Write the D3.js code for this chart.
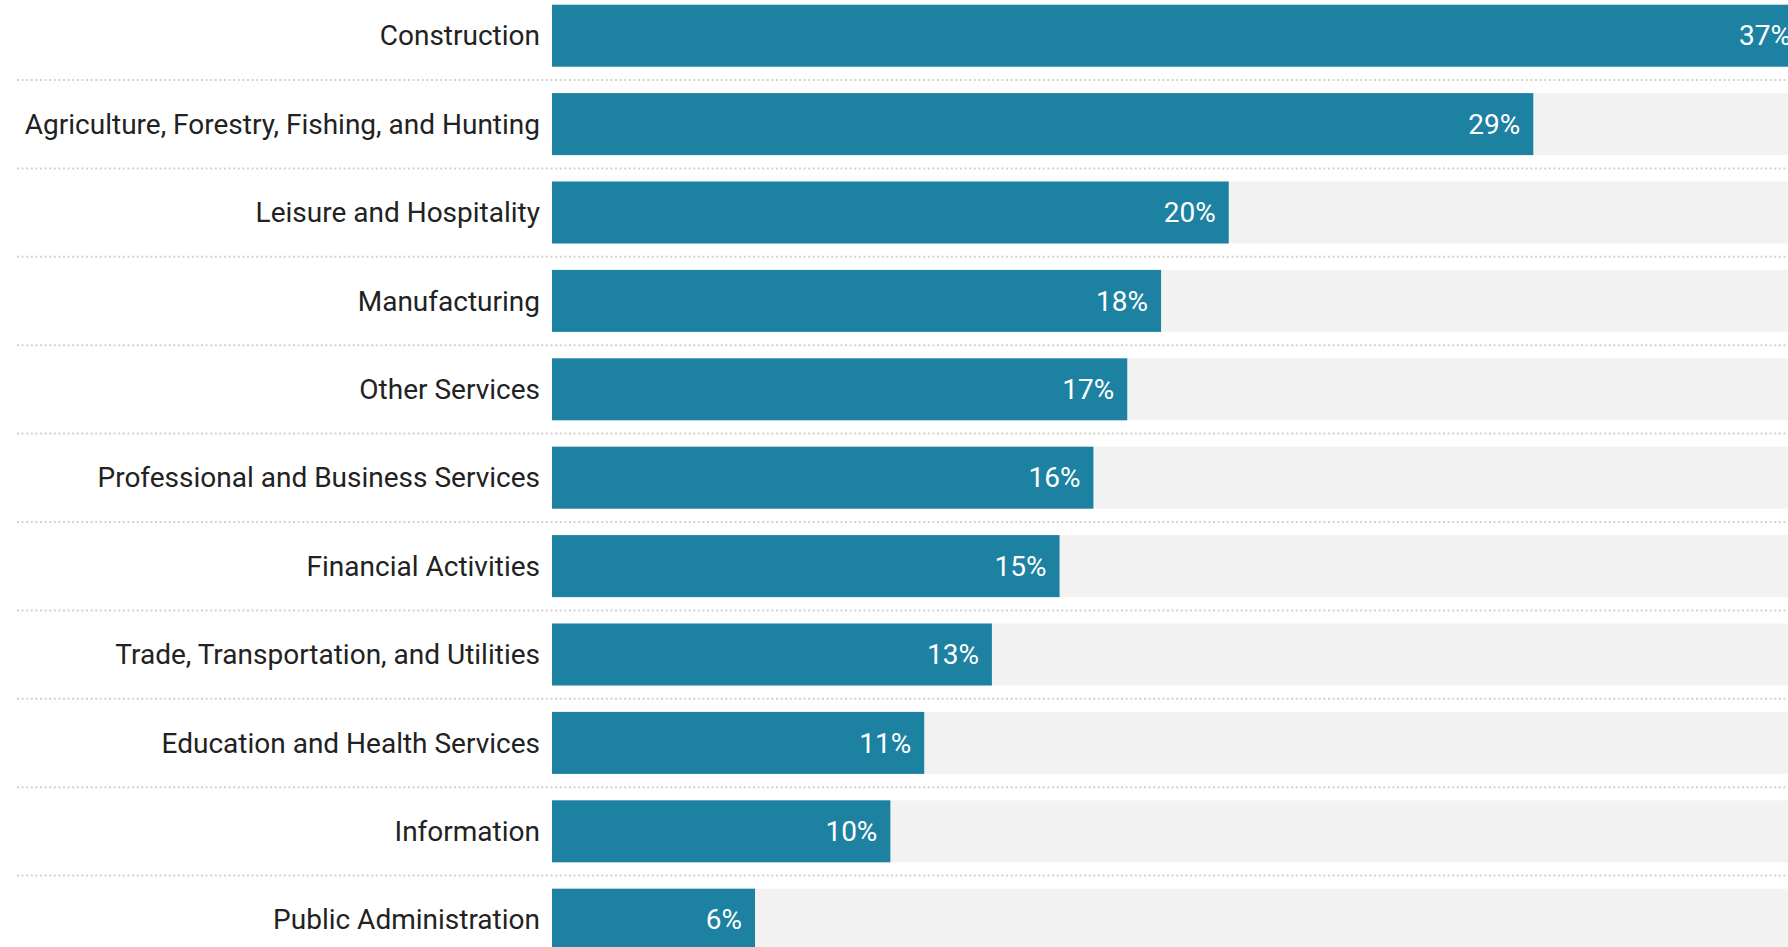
<!DOCTYPE html>
<html>
<head>
<meta charset="utf-8">
<script src="https://cdn.jsdelivr.net/npm/d3@7"></script>
<style>
  html, body { margin: 0; padding: 0; background: #fff; overflow: hidden; }
  text { font-family: Roboto, "Noto Sans", sans-serif; }
</style>
</head>
<body>
<div id="chart"></div>
<script>
// data
var categories = [
    "Construction",
    "Agriculture, Forestry, Fishing, and Hunting",
    "Leisure and Hospitality",
    "Manufacturing",
    "Other Services",
    "Professional and Business Services",
    "Financial Activities",
    "Trade, Transportation, and Utilities",
    "Education and Health Services",
    "Information",
    "Public Administration"
];
var values = [37, 29, 20, 18, 17, 16, 15, 13, 11, 10, 6];

var width = 1788;
var height = 947;

var svg = d3.select("#chart").append("svg")
    .attr("width", width)
    .attr("height", height);

// setup scales
var barLeft = 552;
var x_scale = d3.scaleLinear().domain([0, 37]).range([barLeft, 1804]);

var rowStep = 88.4;
var gap = 26.4;
var y_scale = d3.scaleBand()
    .domain(categories)
    .range([0, rowStep * categories.length - gap])
    .paddingInner(gap / rowStep)
    .paddingOuter(0);

var rows = categories.map(function (c, i) { return { name: c, value: values[i] }; });
var yOff = 4.7;
var chart = svg.append("g").attr("transform", "translate(0," + yOff + ")");

// dotted separators
chart.selectAll("line.sep")
    .data(categories.slice(0, -1))
    .enter()
    .append("line")
    .attr("class", "sep")
    .attr("x1", 17)
    .attr("x2", width)
    .attr("y1", function (d) { return y_scale(d) + y_scale.bandwidth() + 13.3; })
    .attr("y2", function (d) { return y_scale(d) + y_scale.bandwidth() + 13.3; })
    .style("stroke", "#d2d2d2")
    .style("stroke-width", 2)
    .style("stroke-dasharray", "2,2.6");

// background tracks
chart.selectAll("rect.track")
    .data(rows)
    .enter()
    .append("rect")
    .attr("class", "track")
    .attr("x", barLeft)
    .attr("y", function (d) { return y_scale(d.name); })
    .attr("width", width - barLeft)
    .attr("height", y_scale.bandwidth())
    .style("fill", "#f2f2f2");

// bars
chart.selectAll("rect.bar")
    .data(rows)
    .enter()
    .append("rect")
    .attr("class", "bar")
    .attr("x", x_scale(0))
    .attr("y", function (d) { return y_scale(d.name); })
    .attr("width", function (d) { return x_scale(d.value) - x_scale(0); })
    .attr("height", y_scale.bandwidth())
    .style("fill", "#1d81a2");

// category labels
chart.selectAll("text.cat")
    .data(rows)
    .enter()
    .append("text")
    .attr("class", "cat")
    .attr("x", 540)
    .attr("y", function (d) { return y_scale(d.name) + y_scale.bandwidth() / 2; })
    .attr("dy", "0.35em")
    .attr("text-anchor", "end")
    .style("font-size", "28px")
    .style("fill", "#222")
    .text(function (d) { return d.name; });

// value labels
chart.selectAll("text.val")
    .data(rows)
    .enter()
    .append("text")
    .attr("class", "val")
    .attr("x", function (d) { return x_scale(d.value) - 13; })
    .attr("y", function (d) { return y_scale(d.name) + y_scale.bandwidth() / 2; })
    .attr("dy", "0.35em")
    .attr("text-anchor", "end")
    .style("font-size", "28px")
    .style("fill", "#fff")
    .text(function (d) { return d.value + "%"; });
</script>
</body>
</html>
